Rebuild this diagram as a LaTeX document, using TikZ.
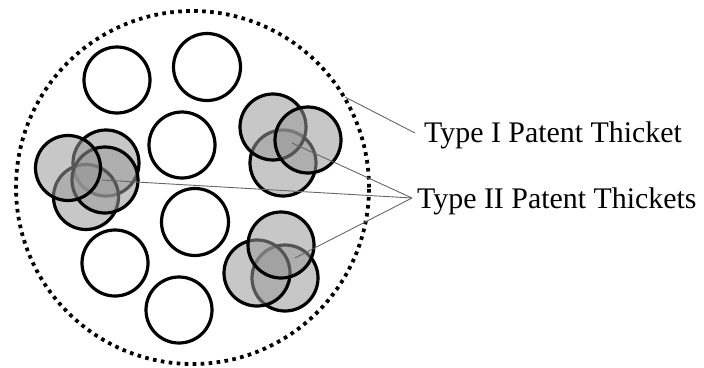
\documentclass[tikz,border=0pt]{standalone}
\usepackage{fontspec}
\setmainfont{Liberation Serif}
\begin{document}
\begin{tikzpicture}[x=1pt,y=-1pt,
  plain/.style={draw=black,line width=3.2pt,fill=white},
  grayc/.style={draw=black,line width=3.2pt,fill=black!40,fill opacity=0.55,draw opacity=1},
  leader/.style={draw=black!60,line width=0.9pt},
  lbl/.style={font=\fontsize{29.9}{32}\selectfont,inner sep=0pt,anchor=base west}]
\useasboundingbox (0,0) rectangle (704,367);
% outer dotted circle
\draw[line width=3.8pt,dash pattern=on 3.6pt off 4.4pt] (192.5,187.5) circle[radius=176.5pt];
\coordinate (outerpt) at (345,97);
% white circles
\draw[plain] (117,80) circle[radius=33pt];
\draw[plain] (207,67) circle[radius=33.5pt];
\draw[plain] (182,145) circle[radius=33pt];
\draw[plain] (195,222) circle[radius=33.5pt];
\draw[plain] (115,263) circle[radius=33pt];
\draw[plain] (179,310) circle[radius=33pt];
% left cluster
\draw[grayc] (106,163) circle[radius=33pt];
\draw[grayc] (86,197) circle[radius=32.5pt];
\draw[grayc] (105,180) circle[radius=33pt];
\draw[grayc] (68,168) circle[radius=32.5pt];
% top-right cluster
\draw[grayc] (283,163) circle[radius=33pt];
\draw[grayc] (273,127) circle[radius=33pt];
\draw[grayc] (308,140) circle[radius=33pt];
% bottom-right cluster
\draw[grayc] (285,278) circle[radius=33pt];
\draw[grayc] (257,273) circle[radius=33pt];
\draw[grayc] (281,245) circle[radius=33pt];
% anchor points of leaders
\coordinate (c1) at (102,180);
\coordinate (c2) at (292,143);
\coordinate (c3) at (295,258);
\coordinate (conv) at (412,198);
\coordinate (t1end) at (415,133);
% labels
\node[lbl] (t1) at (424,142) {Type I Patent Thicket};
\node[lbl] (t2) at (417,208) {Type II Patent Thickets};
% leaders
\draw[leader] (outerpt) -- (t1end);
\draw[leader] (c1) -- (conv);
\draw[leader] (c2) -- (conv);
\draw[leader] (c3) -- (conv);
\end{tikzpicture}
\end{document}
